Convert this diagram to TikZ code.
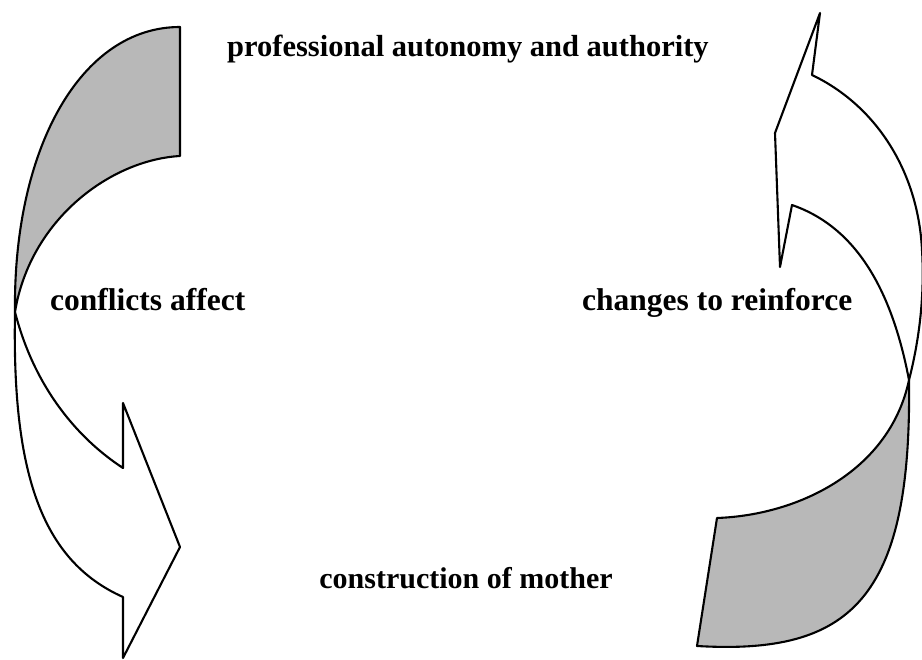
\documentclass[tikz,border=0pt]{standalone}
\usepackage{fontspec}
\setmainfont{Liberation Serif}
\begin{document}
\begin{tikzpicture}[x=1pt,y=-1pt,
  outline/.style={draw=black,line width=2.1pt,line join=round},
  greypart/.style={outline,fill=black!28},
  whitepart/.style={outline,fill=white},
  txt/.style={font=\fontsize{31.5}{36}\selectfont\bfseries,inner sep=0pt,anchor=base west}]
\useasboundingbox (0,0) rectangle (922,660);
% left arrow, shaded upper part
\path[greypart] (180,27) .. controls (80,27) and (13,150) .. (15,312)
  .. controls (30,220) and (110,160) .. (180,156) -- cycle;
% left arrow, white lower part with head
\path[whitepart] (15,312) .. controls (12,470) and (40,560) .. (123,597)
  -- (123,658) -- (180,547) -- (123,403) -- (123,468)
  .. controls (80,440) and (35,390) .. (15,312) -- cycle;
% right arrow, white upper part with head
\path[whitepart] (820,13) -- (812,75) .. controls (875,105) and (918,170) .. (922,250)
  .. controls (925,300) and (918,345) .. (909,380)
  .. controls (890,280) and (850,225) .. (792,205)
  -- (780,267) -- (775,133) -- cycle;
% right arrow, shaded lower part
\path[greypart] (909,380) .. controls (890,470) and (800,515) .. (717,518)
  -- (697,646) .. controls (850,655) and (912,600) .. (909,380) -- cycle;
% texts
\node[txt,anchor=base,font=\fontsize{30.5}{35}\selectfont\bfseries] (top) at (468,57) {professional autonomy and authority};
\node[txt] (left) at (50,311) {conflicts affect};
\node[txt] (right) at (582,311) {changes to reinforce};
\node[txt,anchor=base,font=\fontsize{30}{34}\selectfont\bfseries] (bottom) at (466,588) {construction of mother};
\end{tikzpicture}
\end{document}
